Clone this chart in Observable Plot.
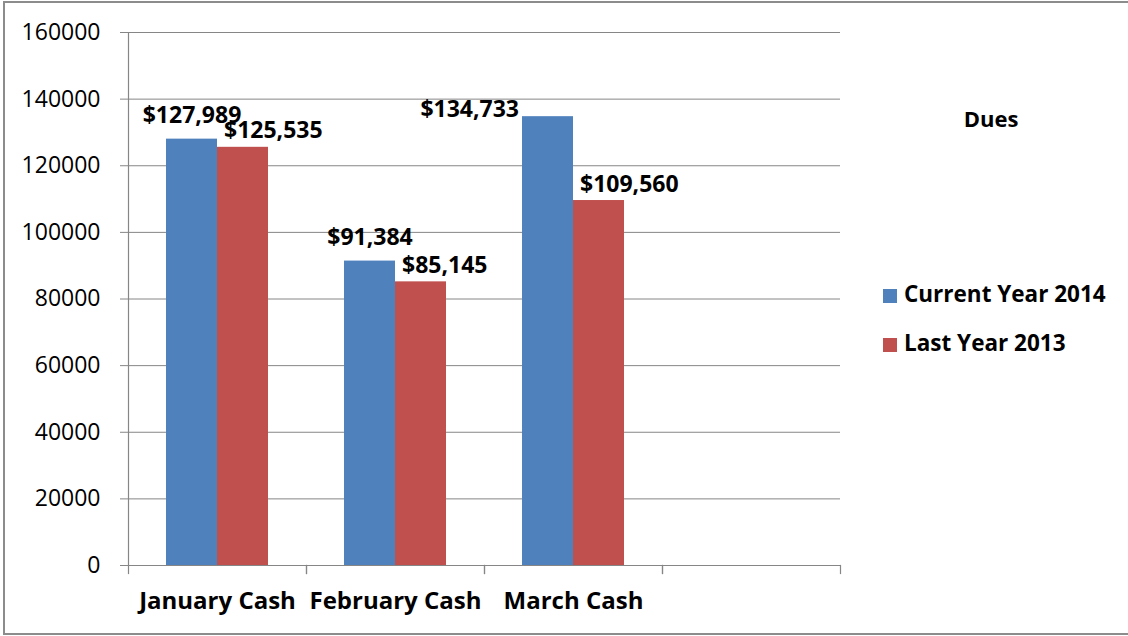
<!DOCTYPE html>
<html><head><meta charset="utf-8">
<script src="https://cdn.jsdelivr.net/npm/d3@7"></script>
<script src="https://cdn.jsdelivr.net/npm/@observablehq/plot@0.6"></script>
<style>
html,body{margin:0;padding:0;background:#fff;}
#wrap{position:relative;width:1128px;height:636px;overflow:hidden;font-family:"Open Sans",sans-serif;background:#fff;}
#border{position:absolute;left:3px;top:1px;width:1140px;height:634px;border:2px solid #8c8c8c;box-sizing:border-box;pointer-events:none;}
#legend{position:absolute;left:0;top:0;width:1128px;height:636px;pointer-events:none;}
.lg-title{position:absolute;left:891px;width:200px;text-align:center;font-weight:bold;font-size:22px;line-height:22px;color:#000;}
.lg-item{position:absolute;left:883px;font-weight:bold;font-size:22.5px;line-height:22px;color:#000;white-space:nowrap;}
.lg-sw{position:absolute;left:0;width:14px;height:14px;}
.lg-tx{position:absolute;left:21px;white-space:nowrap;}
</style></head><body>
<div id="wrap"><div id="chart"></div><div id="legend"></div><div id="border"></div></div>
<script>
const categories = ["January Cash", "February Cash", "March Cash"];
const series = ["Current Year 2014", "Last Year 2013"];
const currentYear = [127989, 91384, 134733];
const lastYear = [125535, 85145, 109560];
const yTicks = [0, 20000, 40000, 60000, 80000, 100000, 120000, 140000, 160000];
const legendTitle = "Dues";
const colors = ["#4F81BD", "#C0504D"];

const rows = [];
categories.forEach((c, i) => {
  rows.push({category: c, series: series[0], value: currentYear[i]});
  rows.push({category: c, series: series[1], value: lastYear[i]});
});
const slots = [...categories, ""];
const fmt = d3.format("$,");
const gray = "#868686";
const lastCat = categories[categories.length - 1];

const chart = Plot.plot({
  width: 1128,
  height: 636,
  marginLeft: 128,
  marginRight: 288,
  marginTop: 32,
  marginBottom: 71,
  style: {fontFamily: "'Open Sans', sans-serif", background: "transparent", overflow: "visible", color: "#000"},
  fx: {domain: slots, padding: 0, axis: null},
  x: {domain: series, paddingInner: 0, paddingOuter: 0.712, axis: null},
  y: {domain: [0, 160000], axis: null},
  color: {domain: series, range: colors},
  marks: [
    Plot.gridY(yTicks, {stroke: gray, strokeOpacity: 1, strokeWidth: 1}),
    Plot.barY(rows, {fx: "category", x: "series", y: "value", fill: "series"}),
    // baseline drawn in every category slot (keeps the empty 4th slot)
    Plot.ruleY(slots, {fx: d => d, y: 0, stroke: gray, strokeWidth: 1.2}),
    Plot.frame({anchor: "left", facetAnchor: "left", stroke: gray, strokeWidth: 1.2}),
    Plot.frame({anchor: "left", insetTop: 533, insetBottom: -8, stroke: gray, strokeWidth: 1.2}),
    Plot.frame({anchor: "right", insetTop: 533, insetBottom: -8, stroke: gray, strokeWidth: 1.2}),
    Plot.axisY({ticks: yTicks, tickSize: 8, tickPadding: 20, stroke: gray, fill: "#000", fontSize: 23, tickFormat: d => String(d), label: null}),
    Plot.axisFx({anchor: "bottom", tickSize: 0, tickPadding: 26, fontSize: 24, fontWeight: "bold", fill: "#000", label: null}),
    Plot.text(rows.filter(d => d.series === series[0] && d.category !== lastCat), {
      fx: "category", x: "series", y: "value", text: d => fmt(d.value),
      lineAnchor: "bottom", dy: -16, fontSize: 23, fontWeight: "bold", fill: "#000"
    }),
    Plot.text(rows.filter(d => d.series === series[0] && d.category === lastCat), {
      fx: "category", x: "series", y: "value", text: d => fmt(d.value),
      lineAnchor: "bottom", textAnchor: "end", dx: -29, dy: 0, fontSize: 23, fontWeight: "bold", fill: "#000"
    }),
    Plot.text(rows.filter(d => d.series === series[1]), {
      fx: "category", x: "series", y: "value", text: d => fmt(d.value),
      lineAnchor: "bottom", textAnchor: "start", dx: -19, dy: -9, fontSize: 23, fontWeight: "bold", fill: "#000"
    })
  ]
});
document.getElementById("chart").appendChild(chart);

const color = chart.scale("color");
const lg = d3.select("#legend");
lg.append("div").attr("class", "lg-title").style("top", "107px").text(legendTitle);
series.forEach((s, i) => {
  const item = lg.append("div").attr("class", "lg-item").style("top", (283 + i * 49) + "px");
  item.append("div").attr("class", "lg-sw").style("top", "6px").style("background", color.apply(s));
  item.append("div").attr("class", "lg-tx").style("top", "0px").text(s);
});
</script>
</body></html>
